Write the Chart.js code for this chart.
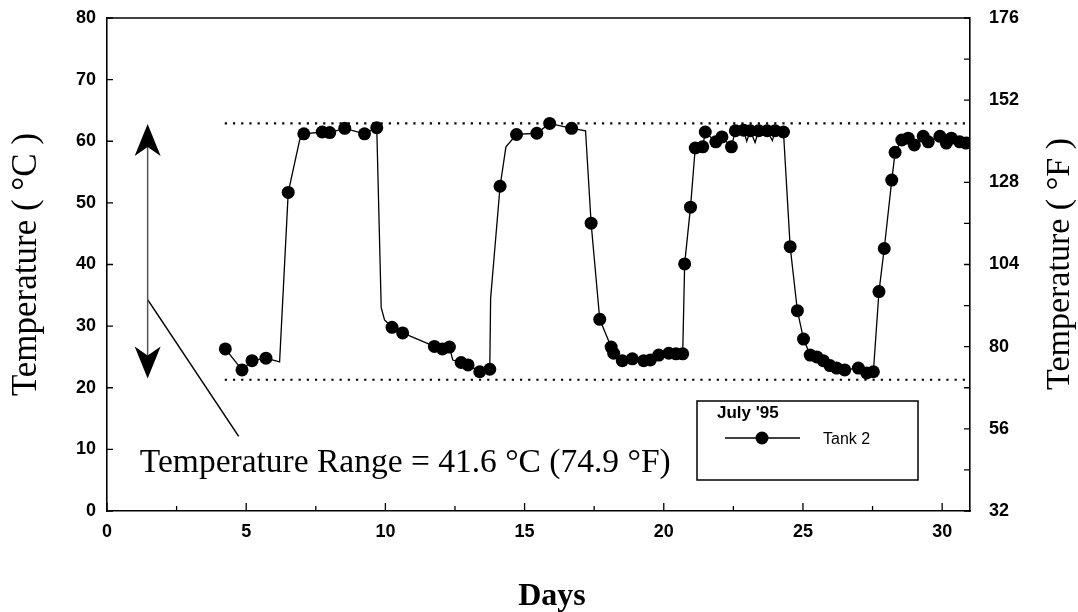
<!DOCTYPE html>
<html>

<head>
  <title>Tank 2 - July '95</title>
  <script src="https://cdn.jsdelivr.net/npm/chart.js@4.4.1/dist/chart.umd.min.js"></script>
  <style>
    body { margin: 0; background: #fff; }
  </style>
</head>

<body>
  <canvas id="tempChart" width="1078" height="612"></canvas>
  <script>

    // sampled readings (the dots)
    var pointDays = [4.25, 4.85, 5.21, 5.71, 6.51, 7.07, 7.73, 8.00, 8.54, 9.25, 9.69, 10.24, 10.62,
      11.76, 12.05, 12.30, 12.72, 12.97, 13.39, 13.75, 14.12, 14.71, 15.44, 15.90, 16.69, 17.39, 17.70,
      18.11, 18.20, 18.51, 18.87, 19.28, 19.52, 19.82, 20.18, 20.44, 20.68, 20.75, 20.96, 21.13, 21.40,
      21.49, 21.87, 22.09, 22.43, 22.57, 22.87, 23.11, 23.41, 23.71, 24.00, 24.30, 24.54, 24.80, 25.02,
      25.26, 25.50, 25.73, 25.97, 26.21, 26.50, 26.99, 27.29, 27.53, 27.73, 27.92, 28.19, 28.31, 28.55,
      28.78, 29.00, 29.32, 29.50, 29.92, 30.15, 30.33, 30.63, 30.86];
    var pointTemps = [26.3, 22.9, 24.4, 24.8, 51.7, 61.2, 61.5, 61.4, 62.1, 61.2, 62.2, 29.8, 28.9,
      26.7, 26.3, 26.6, 24.1, 23.7, 22.6, 23.0, 52.7, 61.1, 61.3, 62.9, 62.1, 46.7, 31.1,
      26.6, 25.6, 24.4, 24.7, 24.4, 24.5, 25.3, 25.6, 25.5, 25.5, 40.1, 49.3, 58.9, 59.1,
      61.5, 59.9, 60.7, 59.1, 61.7, 61.8, 61.7, 61.7, 61.7, 61.7, 61.5, 42.9, 32.5, 27.9,
      25.3, 25.0, 24.4, 23.6, 23.2, 22.9, 23.2, 22.4, 22.6, 35.6, 42.6, 53.7, 58.2, 60.2,
      60.5, 59.4, 60.8, 59.9, 60.8, 59.7, 60.5, 59.9, 59.7];

    // bends of the recorder trace between the dots
    var bendDays = [6.20, 6.92, 9.85, 9.97, 12.42, 13.78, 14.33, 17.19, 22.98, 23.28, 23.90];
    var bendTemps = [24.2, 60.2, 33.0, 31.0, 24.5, 34.5, 59.1, 61.7, 60.0, 59.8, 60.1];

    // range markers
    var rangeHigh = 62.9;
    var rangeLow = 21.3;
    var rangeStart = 4.23;
    var rangeText = 'Temperature Range = 41.6 \u00B0C (74.9 \u00B0F)';

    var seriesName = 'Tank 2';
    var legendTitle = "July '95";

    function toPoints(xs, ys) {
      var out = [];
      for (var i = 0; i < xs.length; i++) out.push({ x: xs[i], y: ys[i] });
      return out;
    }

    var tracePoints = toPoints(pointDays.concat(bendDays), pointTemps.concat(bendTemps));
    tracePoints.sort(function (a, b) { return a.x - b.x; });

    var serif = '"Liberation Serif", "Times New Roman", serif';
    var sans = '"Liberation Sans", Arial, sans-serif';

    var decorations = {
      id: 'decorations',
      afterDraw: function (chart) {
        var ctx = chart.ctx;
        var xs = chart.scales.x, ys = chart.scales.y, fs = chart.scales.y2;
        var a = chart.chartArea;
        ctx.save();
        ctx.strokeStyle = '#000';
        ctx.fillStyle = '#000';

        // frame top
        ctx.lineWidth = 1.6;
        ctx.beginPath();
        ctx.moveTo(a.left, a.top);
        ctx.lineTo(a.right, a.top);
        ctx.stroke();

        // inward ticks
        ctx.lineWidth = 1.3;
        ctx.beginPath();
        for (var d = 0; d <= 30; d += 2.5) {
          var px = xs.getPixelForValue(d);
          var len = d % 5 === 0 ? 8 : 5;
          ctx.moveTo(px, a.bottom);
          ctx.lineTo(px, a.bottom - len);
        }
        for (var c = 0; c <= 80; c += 10) {
          var py = ys.getPixelForValue(c);
          ctx.moveTo(a.left, py);
          ctx.lineTo(a.left + 6, py);
        }
        for (var f = 32; f <= 176; f += 12) {
          var pf = fs.getPixelForValue(f);
          ctx.moveTo(a.right, pf);
          ctx.lineTo(a.right - 6, pf);
        }
        ctx.stroke();

        // arrow heads on the range arrow
        var ax = xs.getPixelForValue(1.46);
        var topTip = ys.getPixelForValue(rangeHigh - 0.1);
        var botTip = ys.getPixelForValue(rangeLow + 0.2);
        function head(tip, dir) {
          ctx.beginPath();
          ctx.moveTo(ax, tip);
          ctx.lineTo(ax + 13, tip + dir * 32);
          ctx.lineTo(ax, tip + dir * 23);
          ctx.lineTo(ax - 13, tip + dir * 32);
          ctx.closePath();
          ctx.fill();
        }
        head(topTip, 1);
        head(botTip, -1);

        // range text
        ctx.font = '33.5px ' + serif;
        ctx.textAlign = 'left';
        ctx.textBaseline = 'middle';
        ctx.fillText(rangeText, xs.getPixelForValue(1.18), ys.getPixelForValue(7.8));

        // x axis title
        ctx.font = 'bold 32px ' + serif;
        ctx.textAlign = 'center';
        ctx.textBaseline = 'alphabetic';
        ctx.fillText('Days', 552, 605);

        // right axis title
        ctx.save();
        ctx.translate(1060, 264);
        ctx.rotate(-Math.PI / 2);
        ctx.textAlign = 'center';
        ctx.textBaseline = 'middle';
        ctx.font = '34px ' + serif;
        ctx.fillText('Temperature ( \u00B0F )', 0, 0);
        ctx.restore();

        // legend box
        ctx.lineWidth = 1.5;
        ctx.strokeRect(697, 401, 221, 79);
        ctx.font = 'bold 17px ' + sans;
        ctx.textAlign = 'left';
        ctx.textBaseline = 'middle';
        ctx.fillText(legendTitle, 717, 413);
        ctx.lineWidth = 1.3;
        ctx.beginPath();
        ctx.moveTo(725, 438);
        ctx.lineTo(800, 438);
        ctx.stroke();
        ctx.beginPath();
        ctx.arc(762, 438, 6.5, 0, Math.PI * 2);
        ctx.fill();
        ctx.font = '16px ' + sans;
        ctx.fillText(seriesName, 823, 440);

        ctx.restore();
      }
    };

    var tickFont = { family: sans, size: 18, weight: 'bold' };

    // fixed axis boxes so the plot frame lands where it does in the original
    function fitSide(w) {
      return function (s) { s.width = w; s.paddingTop = 0; s.paddingBottom = 0; };
    }

    var chart = new Chart(document.getElementById('tempChart'), {
      type: 'scatter',
      data: {
        datasets: [
          {
            label: seriesName + ' trace',
            data: tracePoints,
            showLine: true,
            borderColor: '#000',
            borderWidth: 1.3,
            pointRadius: 0
          },
          {
            label: seriesName,
            data: toPoints(pointDays, pointTemps),
            showLine: false,
            pointRadius: 6.5,
            pointBackgroundColor: '#000',
            pointBorderWidth: 0
          },
          {
            label: 'high',
            data: [{ x: rangeStart, y: rangeHigh }, { x: 31, y: rangeHigh }],
            showLine: true,
            borderColor: '#000',
            borderWidth: 2.2,
            borderDash: [2.2, 6],
            pointRadius: 0
          },
          {
            label: 'low',
            data: [{ x: rangeStart, y: rangeLow }, { x: 31, y: rangeLow }],
            showLine: true,
            borderColor: '#000',
            borderWidth: 2.2,
            borderDash: [2.2, 6],
            pointRadius: 0
          },
          {
            label: 'arrow',
            data: [{ x: 1.46, y: rangeLow + 2 }, { x: 1.46, y: rangeHigh - 2 }],
            showLine: true,
            borderColor: '#555',
            borderWidth: 1.5,
            pointRadius: 0
          },
          {
            label: 'leader',
            data: [{ x: 1.46, y: 34.3 }, { x: 4.73, y: 12.1 }],
            showLine: true,
            borderColor: '#000',
            borderWidth: 1.5,
            pointRadius: 0
          }
        ]
      },
      options: {
        responsive: false,
        animation: false,
        layout: { padding: { top: 18, left: 0, right: 0, bottom: 0 } },
        plugins: {
          legend: { display: false },
          tooltip: { enabled: false }
        },
        scales: {
          x: {
            type: 'linear',
            min: 0,
            max: 31,
            grid: { display: false, drawTicks: false },
            border: { display: true, color: '#000', width: 1.6 },
            ticks: { stepSize: 5, includeBounds: false, color: '#000', font: tickFont, padding: 10, maxRotation: 0 },
            afterFit: function (s) { s.height = 101; }
          },
          y: {
            position: 'left',
            min: 0,
            max: 80,
            grid: { display: false, drawTicks: false },
            border: { display: true, color: '#000', width: 1.6 },
            ticks: { stepSize: 10, color: '#000', font: tickFont, padding: 11 },
            title: {
              display: true,
              text: 'Temperature ( \u00B0C )',
              color: '#000',
              font: { family: serif, size: 35, lineHeight: 1 },
              padding: { top: 9, bottom: 0 }
            },
            afterFit: fitSide(107)
          },
          y2: {
            position: 'right',
            min: 32,
            max: 176,
            grid: { display: false, drawTicks: false },
            border: { display: true, color: '#000', width: 1.6 },
            ticks: { stepSize: 24, color: '#000', font: tickFont, padding: 19 },
            afterFit: fitSide(108)
          }
        }
      },
      plugins: [decorations]
    });

  </script>
</body>

</html>
